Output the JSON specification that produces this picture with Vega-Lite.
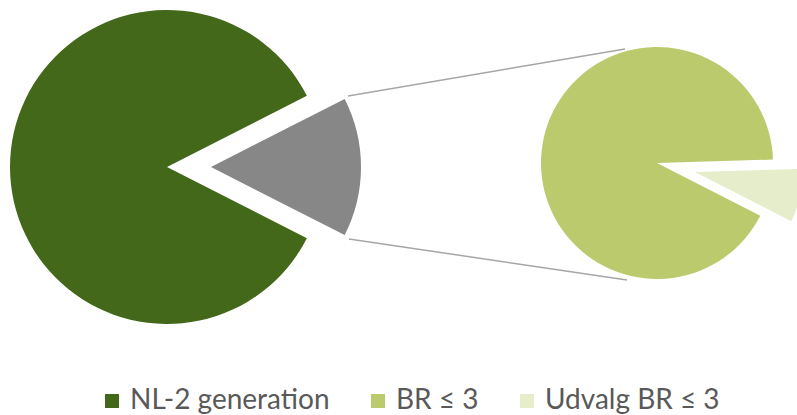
{
  "$schema": "https://vega.github.io/schema/vega-lite/v6.json",
  "width": 797,
  "height": 330,
  "padding": 0,
  "background": "white",
  "datasets": {
    "shares": [
      {"pie": "main", "label": "NL-2 generation", "value": 85},
      {"pie": "main", "label": "Øvrige", "value": 15},
      {"pie": "sub", "label": "BR ≤ 3", "value": 13.8},
      {"pie": "sub", "label": "Udvalg BR ≤ 3", "value": 1.2}
    ],
    "links": [{"from": "main", "to": "sub"}]
  },
  "encoding": {
    "x": {"field": "pie", "type": "nominal", "scale": {"type": "point", "padding": 0, "domain": ["main", "sub"], "range": [167, 657]}, "axis": null},
    "y": {"datum": 0, "type": "quantitative", "scale": {"domain": [-1, 1]}, "axis": null}
  },
  "layer": [
    {
      "data": {"name": "shares"},
      "transform": [
        {"stack": "value", "groupby": ["pie"], "offset": "normalize", "as": ["v0", "v1"]},
        {"filter": "datum.label === 'NL-2 generation'"}
      ],
      "mark": {"type": "arc", "radius": 157, "yOffset": 2},
      "encoding": {
        "theta": {"field": "v0", "type": "quantitative", "stack": null, "scale": {"domain": [0, 1], "range": [-4.2412, 2.042]}},
        "theta2": {"field": "v1"},
        "color": {
          "field": "label",
          "type": "nominal",
          "scale": {"domain": ["NL-2 generation", "BR ≤ 3", "Udvalg BR ≤ 3"], "range": ["#43681A", "#BBCA6C", "#E6EDCB"]},
          "legend": {"orient": "none", "legendX": 98, "legendY": 387}
        }
      }
    },
    {
      "data": {"name": "shares"},
      "transform": [
        {"stack": "value", "groupby": ["pie"], "offset": "normalize", "as": ["v0", "v1"]},
        {"filter": "datum.label === 'Øvrige'"}
      ],
      "mark": {"type": "arc", "radius": 150, "xOffset": 44, "yOffset": 2, "color": "#878787"},
      "encoding": {
        "theta": {"field": "v0", "type": "quantitative", "stack": null, "scale": {"domain": [0, 1], "range": [-4.2412, 2.042]}},
        "theta2": {"field": "v1"}
      }
    },
    {
      "data": {"name": "shares"},
      "transform": [
        {"stack": "value", "groupby": ["pie"], "offset": "normalize", "as": ["v0", "v1"]},
        {"filter": "datum.label === 'BR ≤ 3'"}
      ],
      "mark": {"type": "arc", "radius": 116, "yOffset": -2},
      "encoding": {
        "theta": {"field": "v0", "type": "quantitative", "stack": null, "scale": {"domain": [0, 1], "range": [-4.2394, 2.0438]}},
        "theta2": {"field": "v1"},
        "color": {"field": "label", "type": "nominal"}
      }
    },
    {
      "data": {"name": "shares"},
      "transform": [
        {"stack": "value", "groupby": ["pie"], "offset": "normalize", "as": ["v0", "v1"]},
        {"filter": "datum.label === 'Udvalg BR ≤ 3'"}
      ],
      "mark": {"type": "arc", "radius": 108, "xOffset": 38, "yOffset": 7, "clip": true},
      "encoding": {
        "theta": {"field": "v0", "type": "quantitative", "stack": null, "scale": {"domain": [0, 1], "range": [-4.2394, 2.0438]}},
        "theta2": {"field": "v1"},
        "color": {"field": "label", "type": "nominal"}
      }
    },
    {
      "data": {"name": "links"},
      "mark": {"type": "rule", "color": "#A6A6A6", "strokeWidth": 1.5, "xOffset": 181, "x2Offset": -32, "yOffset": -69, "y2Offset": -116},
      "encoding": {
        "x": {"field": "from", "type": "nominal"},
        "x2": {"field": "to"},
        "y2": {"datum": 0}
      }
    },
    {
      "data": {"name": "links"},
      "mark": {"type": "rule", "color": "#A6A6A6", "strokeWidth": 1.5, "xOffset": 182, "x2Offset": -30, "yOffset": 74, "y2Offset": 115},
      "encoding": {
        "x": {"field": "from", "type": "nominal"},
        "x2": {"field": "to"},
        "y2": {"datum": 0}
      }
    }
  ],
  "resolve": {"scale": {"theta": "independent"}},
  "config": {
    "view": {"stroke": null},
    "legend": {
      "direction": "horizontal",
      "title": null,
      "symbolType": "square",
      "symbolSize": 196,
      "symbolStrokeWidth": 0,
      "labelFont": "Lato",
      "labelFontSize": 28,
      "labelLimit": 400,
      "labelColor": "#595959",
      "columnPadding": 34,
      "labelOffset": 4,
      "padding": 0
    }
  }
}
